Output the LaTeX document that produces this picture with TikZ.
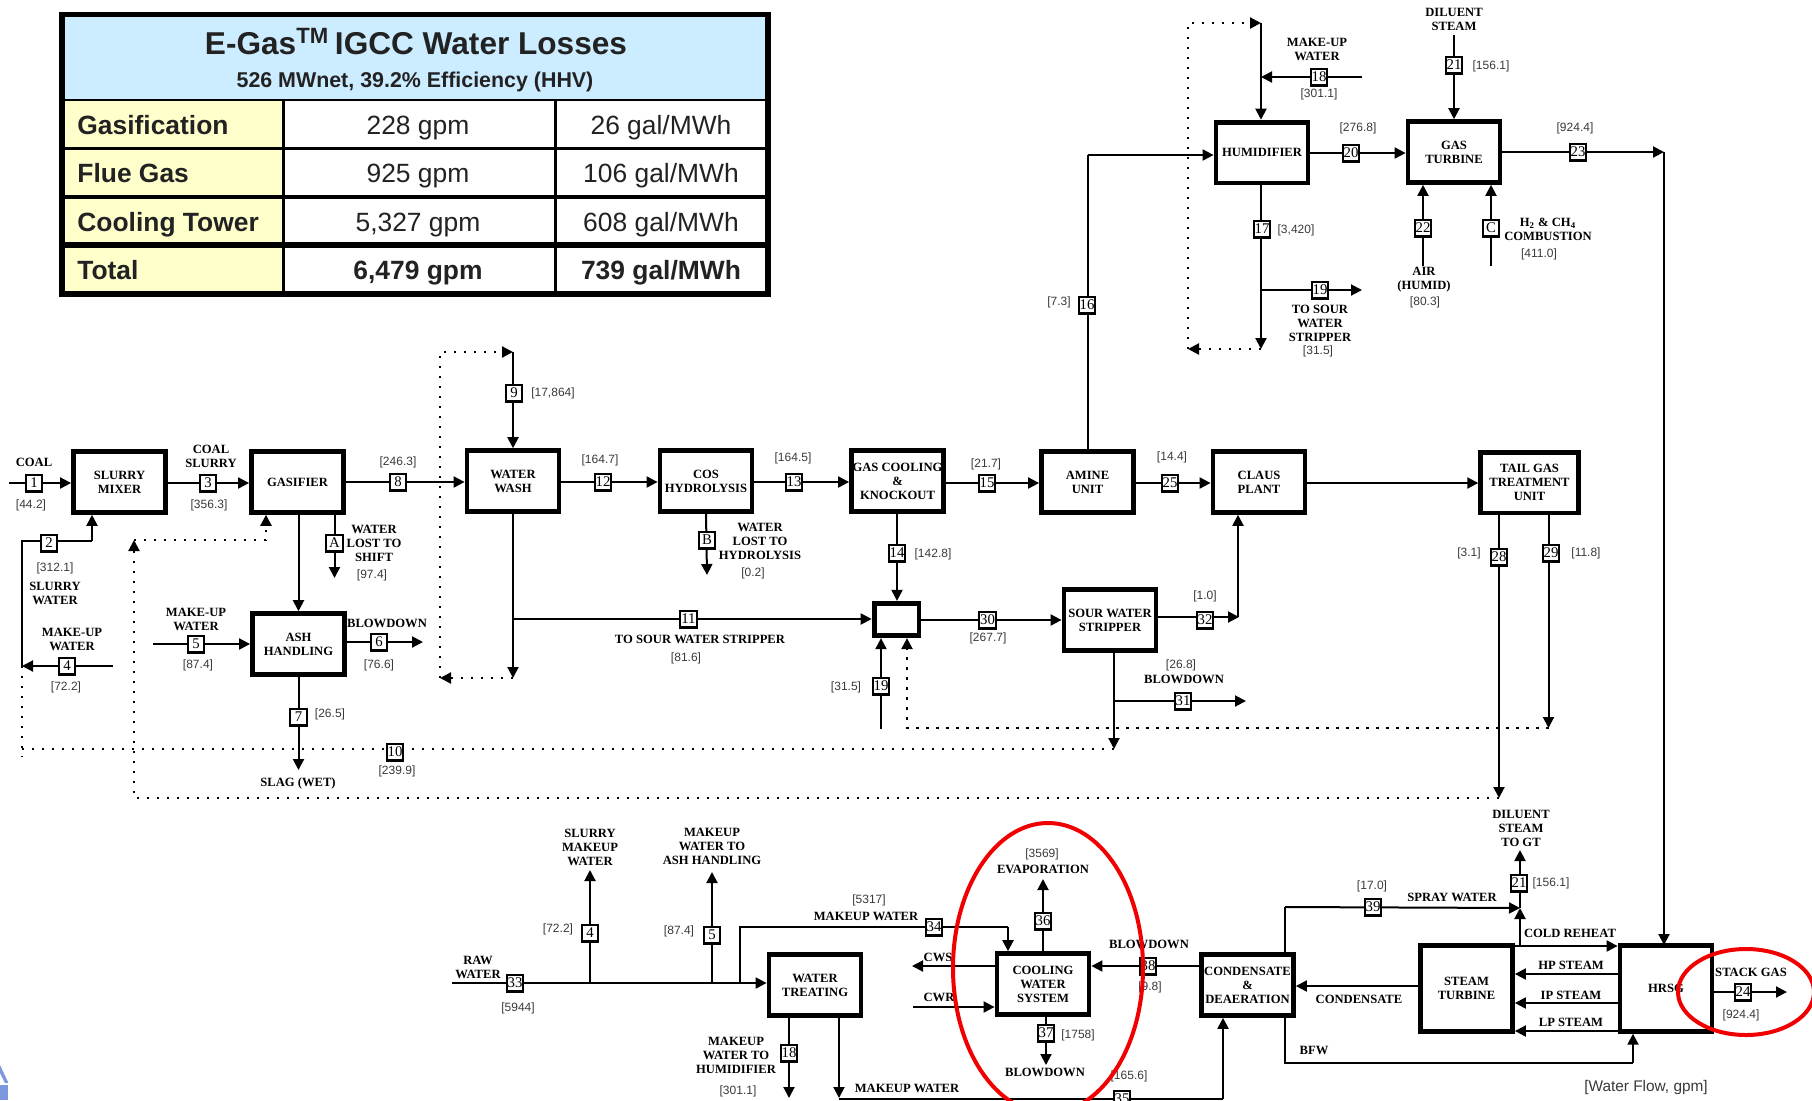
\documentclass[tikz,border=0pt]{standalone}
\usepackage{fontspec}
\setmainfont{Liberation Serif}
\setsansfont{Liberation Sans}
\usetikzlibrary{arrows.meta,backgrounds,calc,shapes.geometric}
\definecolor{tblue}{HTML}{CCECFF}
\definecolor{tyellow}{HTML}{FFFFCC}
\definecolor{ink}{HTML}{222222}
\definecolor{valink}{HTML}{3A3A3A}
\definecolor{ringred}{HTML}{F00000}
\definecolor{cornerblue}{HTML}{7E98DE}
\tikzset{
 pbox/.style={draw=black,fill=white,line width=2.4pt,minimum width=46pt,minimum height=30.4pt,inner sep=0pt,align=center,font=\bfseries\fontsize{6.3}{7}\selectfont},
 sbox/.style={draw=black,fill=white,line width=1.1pt,minimum width=8.2pt,minimum height=8.4pt,inner sep=0pt,font=\fontsize{7.4}{7.4}\selectfont},
 lbl/.style={inner sep=0pt,align=center,font=\bfseries\fontsize{6.3}{7}\selectfont},
 val/.style={inner sep=0pt,text=valink,font=\sffamily\fontsize{6}{6}\selectfont},
 flow/.style={draw=black,line width=1pt},
 flowa/.style={flow,-{Triangle[length=5.5pt,width=5.5pt]}},
 dotline/.style={draw=black,line width=1.1pt,dash pattern=on 1.1pt off 3.9pt},
 dotlinea/.style={dotline,-{Triangle[length=5.5pt,width=5.5pt]}},
 tcell/.style={inner sep=0pt,text=ink,text height=9.5pt,text depth=2.8pt,font=\sffamily\fontsize{13.2}{13.2}\selectfont},
 tcellb/.style={tcell,font=\sffamily\bfseries\fontsize{13.2}{13.2}\selectfont},
 ring/.style={draw=ringred,line width=2pt,ellipse,inner sep=0pt,fill=none}
}
\begin{document}
\begin{tikzpicture}[x=0.5pt,y=-0.5pt]
\useasboundingbox (0,0) rectangle (1812,1100);
\clip (0,0) rectangle (1812,1100);
% ---------- process boxes
\node[pbox] (mixer) at (119.5,482) {SLURRY\\MIXER};
\node[pbox] (gasifier) at (297.5,482) {GASIFIER};
\node[pbox] (wash) at (513,481) {WATER\\WASH};
\node[pbox] (ash) at (298.5,644) {ASH\\HANDLING};
\node[pbox] (cos) at (706,481) {COS\\HYDROLYSIS};
\node[pbox] (gcool) at (897.5,481) {GAS COOLING\\\&\\KNOCKOUT};
\node[pbox] (amine) at (1087.5,482) {AMINE\\UNIT};
\node[pbox] (claus) at (1259,482) {CLAUS\\PLANT};
\node[pbox,minimum width=48.8pt] (tail) at (1529.5,482.5) {TAIL GAS\\TREATMENT\\UNIT};
\node[pbox] (stripper) at (1110,620) {SOUR WATER\\STRIPPER};
\node[pbox,minimum width=22.4pt,minimum height=16.2pt] (junction) at (896.5,619.5) {};
\node[pbox] (humid) at (1262,152.5) {HUMIDIFIER};
\node[pbox] (gt) at (1454,152) {GAS\\TURBINE};
\node[pbox] (cooling) at (1043,984) {COOLING\\WATER\\SYSTEM};
\node[pbox] (treat) at (815,985) {WATER\\TREATING};
\node[pbox] (cond) at (1247.5,985) {CONDENSATE\\\&\\DEAERATION};
\node[pbox,minimum height=42.8pt] (st) at (1466.5,988.5) {STEAM\\TURBINE};
\node[pbox,minimum height=42.8pt] (hrsg) at (1666,988.5) {HRSG};
% ---------- stream boxes
\node[sbox] (s1) at (34,483) {1};
\node[sbox] (s2) at (49,543) {2};
\node[sbox] (s3) at (208,483) {3};
\node[sbox] (s4) at (67,666) {4};
\node[sbox] (s5) at (196,644) {5};
\node[sbox] (s6) at (379,642) {6};
\node[sbox] (s7) at (298.5,717) {7};
\node[sbox] (s8) at (398,482) {8};
\node[sbox] (s9) at (514,393) {9};
\node[sbox] (s10) at (395,752) {10};
\node[sbox] (sA) at (334.5,543) {A};
\node[sbox] (s11) at (688.5,619) {11};
\node[sbox] (s12) at (603,482) {12};
\node[sbox] (s13) at (794,482) {13};
\node[sbox] (sB) at (707,540) {B};
\node[sbox] (s14) at (897,553) {14};
\node[sbox] (s15) at (987,483) {15};
\node[sbox] (s25) at (1170,483) {25};
\node[sbox] (s30) at (987.5,620) {30};
\node[sbox] (s32) at (1205,620) {32};
\node[sbox] (s19a) at (881,686) {19};
\node[sbox] (s31) at (1183,701) {31};
\node[sbox] (s16) at (1087,305) {16};
\node[sbox] (s18a) at (1319,77) {18};
\node[sbox] (s17) at (1262,229) {17};
\node[sbox] (s19b) at (1320,290) {19};
\node[sbox] (s20) at (1351,153) {20};
\node[sbox] (s21a) at (1454,65) {21};
\node[sbox] (s23) at (1578,152) {23};
\node[sbox] (s22) at (1423,228) {22};
\node[sbox] (sC) at (1491,228) {C};
\node[sbox] (s28) at (1499,557) {28};
\node[sbox] (s29) at (1551,553) {29};
\node[sbox] (s21b) at (1519,883) {21};
\node[sbox] (s39) at (1373,907) {39};
\node[sbox] (s24) at (1743,992) {24};
\node[sbox] (s38) at (1148,966) {38};
\node[sbox] (s36) at (1043,921) {36};
\node[sbox] (s34) at (934,927) {34};
\node[sbox] (s37) at (1046,1033) {37};
\node[sbox] (s33) at (515,983) {33};
\node[sbox] (s4b) at (590,933) {4};
\node[sbox] (s5b) at (712,935) {5};
\node[sbox] (s18b) at (789,1053) {18};
\node[sbox] (s35) at (1122,1099) {35};
% ---------- text labels
\node[lbl] (l1) at (34,462) {COAL};
\node[lbl] (l2) at (211,456) {COAL\\SLURRY};
\node[lbl] (l3) at (55,593) {SLURRY\\WATER};
\node[lbl] (l4) at (72,639) {MAKE-UP\\WATER};
\node[lbl] (l5) at (196,619) {MAKE-UP\\WATER};
\node[lbl] (l6) at (387,623) {BLOWDOWN};
\node[lbl] (l7) at (298,783) {SLAG (WET)};
\node[lbl] (l8) at (374,543.5) {WATER\\LOST TO\\SHIFT};
\node[lbl] (l9) at (760,541) {WATER\\LOST TO\\HYDROLYSIS};
\node[lbl] (l10) at (700,639) {TO SOUR WATER STRIPPER};
\node[lbl] (l11) at (1184,679) {BLOWDOWN};
\node[lbl] (l12) at (1317,49.5) {MAKE-UP\\WATER};
\node[lbl] (l13) at (1320,323.5) {TO SOUR\\WATER\\STRIPPER};
\node[lbl] (l14) at (1454,19) {DILUENT\\STEAM};
\node[lbl] (l15) at (1424,280) {AIR\\(HUMID)};
\node[lbl] (l16) at (1548,229) {H\textsubscript{2} \& CH\textsubscript{4}\\COMBUSTION};
\node[lbl] (l17) at (1521,828.5) {DILUENT\\STEAM\\TO GT};
\node[lbl] (l18) at (1452,897) {SPRAY WATER};
\node[lbl] (l19) at (1570,933) {COLD REHEAT};
\node[lbl] (l20) at (1571,965) {HP STEAM};
\node[lbl] (l21) at (1571,995) {IP STEAM};
\node[lbl] (l22) at (1571,1022) {LP STEAM};
\node[lbl] (l23) at (1359,999) {CONDENSATE};
\node[lbl] (l24) at (1314,1050) {BFW};
\node[lbl] (l25) at (1751,972) {STACK GAS};
\node[lbl] (l26) at (1149,944) {BLOWDOWN};
\node[lbl] (l27) at (1043,869) {EVAPORATION};
\node[lbl] (l28) at (866,916) {MAKEUP WATER};
\node[lbl] (l29) at (938,957) {CWS};
\node[lbl] (l30) at (939,997) {CWR};
\node[lbl] (l31) at (1045,1072) {BLOWDOWN};
\node[lbl] (l32) at (478,967) {RAW\\WATER};
\node[lbl] (l33) at (590,847.5) {SLURRY\\MAKEUP\\WATER};
\node[lbl] (l34) at (712,846) {MAKEUP\\WATER TO\\ASH HANDLING};
\node[lbl] (l35) at (736,1055.5) {MAKEUP\\WATER TO\\HUMIDIFIER};
\node[lbl] (l36) at (907,1088) {MAKEUP WATER};
% ---------- flow values
\node[val] (v1) at (31,505) {[44.2]};
\node[val] (v2) at (209,505) {[356.3]};
\node[val] (v3) at (398,462) {[246.3]};
\node[val] (v4) at (553,393) {[17,864]};
\node[val] (v5) at (55,568) {[312.1]};
\node[val] (v6) at (66,687) {[72.2]};
\node[val] (v7) at (372,575) {[97.4]};
\node[val] (v8) at (198,665) {[87.4]};
\node[val] (v9) at (379,665) {[76.6]};
\node[val] (v10) at (330,714) {[26.5]};
\node[val] (v11) at (397,771) {[239.9]};
\node[val] (v12) at (600,460) {[164.7]};
\node[val] (v13) at (793,458) {[164.5]};
\node[val] (v14) at (986,464) {[21.7]};
\node[val] (v15) at (1172,457) {[14.4]};
\node[val] (v16) at (753,573) {[0.2]};
\node[val] (v17) at (933,554) {[142.8]};
\node[val] (v18) at (686,658) {[81.6]};
\node[val] (v19) at (988,638) {[267.7]};
\node[val] (v20) at (1205,596) {[1.0]};
\node[val] (v21) at (846,687) {[31.5]};
\node[val] (v22) at (1181,665) {[26.8]};
\node[val] (v23) at (1059,302) {[7.3]};
\node[val] (v24) at (1319,94) {[301.1]};
\node[val] (v25) at (1296,230) {[3,420]};
\node[val] (v26) at (1318,351) {[31.5]};
\node[val] (v27) at (1358,128) {[276.8]};
\node[val] (v28) at (1491,66) {[156.1]};
\node[val] (v29) at (1575,128) {[924.4]};
\node[val] (v30) at (1425,302) {[80.3]};
\node[val] (v31) at (1539,254) {[411.0]};
\node[val] (v32) at (1469,553) {[3.1]};
\node[val] (v33) at (1586,553) {[11.8]};
\node[val] (v34) at (1551,883) {[156.1]};
\node[val] (v35) at (1372,886) {[17.0]};
\node[val] (v36) at (1741,1015) {[924.4]};
\node[val] (v37) at (1150,987) {[9.8]};
\node[val] (v38) at (1042,854) {[3569]};
\node[val] (v39) at (869,900) {[5317]};
\node[val] (v40) at (1078,1035) {[1758]};
\node[val] (v41) at (518,1008) {[5944]};
\node[val] (v42) at (558,929) {[72.2]};
\node[val] (v43) at (679,931) {[87.4]};
\node[val] (v44) at (738,1091) {[301.1]};
\node[val] (v45) at (1129,1076) {[165.6]};
\node[val,font=\sffamily\fontsize{7.7}{7.7}\selectfont] (v46) at (1646,1087) {[Water Flow, gpm]};
% ---------- free ends and bends
\coordinate (a1) at (9,483);
\coordinate (a2) at (22,541);
\coordinate (a3) at (92,541);
\coordinate (a4) at (113,666);
\coordinate (a5) at (22,666);
\coordinate (a6) at (153,644);
\coordinate (a7) at (423,642);
\coordinate (a8) at (298.5,770);
\coordinate (a9) at (334.5,578);
\coordinate (a10) at (513,352);
\coordinate (a11) at (513,678);
\coordinate (a12) at (513,619);
\coordinate (a13) at (440,352);
\coordinate (a14) at (440,678);
\coordinate (a15) at (707,575);
\coordinate (a16) at (881,729);
\coordinate (a17) at (1239,617);
\coordinate (a18) at (1114,701);
\coordinate (a19) at (1246,701);
\coordinate (a20) at (1114,749);
\coordinate (a21) at (1087.5,155);
\coordinate (a22) at (1362,77);
\coordinate (a23) at (1261,23);
\coordinate (a24) at (1261,77);
\coordinate (a25) at (1188,23);
\coordinate (a26) at (1188,349);
\coordinate (a27) at (1261,349);
\coordinate (a28) at (1261,290);
\coordinate (a29) at (1362,290);
\coordinate (a30) at (1454,35);
\coordinate (a31) at (1423,266);
\coordinate (a32) at (1491,266);
\coordinate (a33) at (1664,152);
\coordinate (a34) at (1499,798);
\coordinate (a35) at (1548.5,728);
\coordinate (a36) at (22,749);
\coordinate (a37) at (22,757);
\coordinate (a38) at (134,798);
\coordinate (a39) at (134,540);
\coordinate (a40) at (266,540);
\coordinate (a41) at (907,728);
\coordinate (a42) at (452,983);
\coordinate (a43) at (590,870);
\coordinate (a44) at (712,872);
\coordinate (a45) at (740,927);
\coordinate (a46) at (1008,927);
\coordinate (a47) at (590,983);
\coordinate (a48) at (712,983);
\coordinate (a49) at (740,983);
\coordinate (a50) at (912,966);
\coordinate (a51) at (913,1007);
\coordinate (a52) at (1043,879);
\coordinate (a53) at (1046,1065);
\coordinate (a54) at (789,1098);
\coordinate (a55) at (839,1098);
\coordinate (a56) at (1223,1099);
\coordinate (a57) at (1285,907);
\coordinate (a58) at (1520,908);
\coordinate (a59) at (1520,850);
\coordinate (a60) at (1520,946);
\coordinate (a61) at (1285,1063);
\coordinate (a62) at (1633,1063);
\coordinate (a63) at (1787,992);
\coordinate (a64) at (1664,945);
% ---------- connectors, behind the boxes
\begin{pgfonlayer}{background}
\fill[white] (0,0) rectangle (1812,1100);
\fill[cornerblue] (0,1065) -- (8,1082) -- (8,1083) -- (5,1083) -- (0,1073) -- cycle;
\fill[cornerblue] (0,1085) -- (8,1085) -- (8,1100) -- (0,1100) -- cycle;
\draw[flowa] (a1) -- (a1 -| mixer.west);
\draw[flowa] (mixer.east |- s3) -- (gasifier.west |- s3);
\draw[flowa] (gasifier.east |- s8) -- (wash.west |- s8);
\draw[flow] (a5) -- (a2) -- (a3);
\draw[flowa] (a3) -- (a3 |- mixer.south);
\draw[flowa] (a4) -- (a5);
\draw[flowa] (gasifier.south -| ash) -- (ash.north);
\draw[flowa] (gasifier.south -| sA) -- (a9);
\draw[flowa] (a6) -- (a6 -| ash.west);
\draw[flowa] (ash.east |- a7) -- (a7);
\draw[flowa] (ash.south) -- (a8);
\draw[flowa] (a10) -- (a10 |- wash.north);
\draw[flowa] (wash.south) -- (a11);
\draw[flowa] (a12) -- (a12 -| junction.west);
\draw[flowa] (wash.east |- s12) -- (cos.west |- s12);
\draw[flowa] (cos.east |- s13) -- (gcool.west |- s13);
\draw[flowa] (cos.south) -- (a15);
\draw[flowa] (gcool.east |- s15) -- (amine.west |- s15);
\draw[flowa] (amine.east |- s25) -- (claus.west |- s25);
\draw[flowa] (claus.east |- s25) -- (tail.west |- s25);
\draw[flowa] (gcool.south -| s14) -- (junction.north -| s14);
\draw[flowa] (a16) -- (a16 |- junction.south);
\draw[flowa] (junction.east |- s30) -- (stripper.west |- s30);
\draw[flowa] (stripper.east |- a17) -- (a17);
\draw[flowa] (a17) ++(-1,0) coordinate (a17b) (a17b) -- (a17b |- claus.south);
\draw[flowa] (stripper.south -| a18) -- (a20);
\draw[flowa] (a18) -- (a19);
\draw[flow] (amine.north) -- (a21);
\draw[flowa] (a21) -- (a21 -| humid.west);
\draw[flowa] (a22) -- (a24);
\draw[flowa] (a23) -- (a23 |- humid.north);
\draw[flowa] (humid.south -| a27) -- (a27);
\draw[flowa] (a28) -- (a29);
\draw[flowa] (humid.east |- s20) -- (gt.west |- s20);
\draw[flowa] (a30) -- (a30 |- gt.north);
\draw[flowa] (a31) -- (a31 |- gt.south);
\draw[flowa] (a32) -- (a32 |- gt.south);
\draw[flowa] (gt.east |- a33) -- (a33);
\draw[flowa] (a33) -- (a64);
\draw[flowa] (tail.south -| a34) -- (a34);
\draw[flowa] (tail.south -| a35) -- (a35);
\draw[flowa] (a42) -- (a42 -| treat.west);
\draw[flowa] (a47) -- (a43);
\draw[flowa] (a48) -- (a44);
\draw[flow] (a49) -- (a45) -- (a46);
\draw[flowa] (a46) -- (a46 |- cooling.north);
\draw[flowa] (cooling.west |- a50) -- (a50);
\draw[flowa] (a51) -- (a51 -| cooling.west);
\draw[flowa] (cooling.north) -- (a52);
\draw[flowa] (cooling.south -| a53) -- (a53);
\draw[flowa] (treat.south -| a54) -- (a54);
\draw[flowa] (treat.south -| a55) -- (a55);
\draw[flow] (a55 |- a56) -- (a56);
\draw[flowa] (a56) -- (a56 |- cond.south);
\draw[flowa] (cond.west |- s38) -- (cooling.east |- s38);
\draw[flow] (cond.north -| a57) -- (a57);
\draw[flowa] (a57) -- (a58);
\draw[flowa] (a60) -- (a58);
\draw[flowa] (a58) -- (a59);
\draw[flowa] (a60 -| st.east) -- (a60 -| hrsg.west);
\coordinate (a65) at (1419,986);
\draw[flowa] (a65) -- (a65 -| cond.east);
\coordinate (a66) at (1619,974);
\coordinate (a67) at (1619,1003);
\coordinate (a68) at (1619,1031);
\draw[flowa] (a66) -- (a66 -| st.east);
\draw[flowa] (a67) -- (a67 -| st.east);
\draw[flowa] (a68) -- (a68 -| st.east);
\draw[flow] (cond.south -| a61) -- (a61) -- (a62);
\draw[flowa] (a62) -- (a62 |- hrsg.south);
\draw[flowa] (hrsg.east |- a63) -- (a63);
% dotted alternates
\draw[dotlinea] (a11) -- (a14);
\draw[dotlinea] (a14) -- (a13) -- (a10);
\draw[dotlinea] (a27) -- (a26);
\draw[dotlinea] (a26) -- (a25) -- (a23);
\draw[dotline] (a5) -- (a37);
\draw[dotline] (a36) -- (a20);
\draw[dotlinea] (a34) -- (a38) -- (a39);
\draw[dotlinea] (a39) -- (a40) -- (a40 |- gasifier.south);
\draw[dotlinea] (a35) -- (a41) -- (a41 |- junction.south);
\end{pgfonlayer}
% ---------- table
\fill[black] (59,12) rectangle (771,297);
\fill[tblue] (65,17) rectangle (765,99);
\fill[tyellow] (65,101) rectangle (282,146.5);
\fill[tyellow] (65,150) rectangle (282,195);
\fill[tyellow] (65,198.5) rectangle (282,242);
\fill[tyellow] (65,248) rectangle (282,291);
\fill[white] (284.5,101) rectangle (554,146.5);
\fill[white] (284.5,150) rectangle (554,195);
\fill[white] (284.5,198.5) rectangle (554,242);
\fill[white] (284.5,248) rectangle (554,291);
\fill[white] (556.5,101) rectangle (765,146.5);
\fill[white] (556.5,150) rectangle (765,195);
\fill[white] (556.5,198.5) rectangle (765,242);
\fill[white] (556.5,248) rectangle (765,291);
\node[tcellb,text height=11.5pt,text depth=3.4pt,font=\sffamily\bfseries\fontsize{15.8}{15.8}\selectfont] (t0) at (416,46) {E-Gas\textsuperscript{TM}\hspace{-1.5pt} IGCC Water Losses};
\node[tcellb,text height=7.7pt,text depth=2.3pt,font=\sffamily\bfseries\fontsize{10.7}{10.7}\selectfont] (t00) at (415,82) {526 MWnet, 39.2\% Efficiency (HHV)};
\node[tcellb,anchor=west] (t1) at (77,127.8) {Gasification};
\node[tcell] (t2) at (418,127.8) {228 gpm};
\node[tcell] (t3) at (661,127.8) {26 gal/MWh};
\node[tcellb,anchor=west] (t4) at (77,175.8) {Flue Gas};
\node[tcell] (t5) at (418,175.8) {925 gpm};
\node[tcell] (t6) at (661,175.8) {106 gal/MWh};
\node[tcellb,anchor=west] (t7) at (77,224.8) {Cooling Tower};
\node[tcell] (t8) at (418,224.8) {5,327 gpm};
\node[tcell] (t9) at (661,224.8) {608 gal/MWh};
\node[tcellb,anchor=west] (t10) at (77,272.8) {Total};
\node[tcellb] (t11) at (418,272.8) {6,479 gpm};
\node[tcellb] (t12) at (661,272.8) {739 gal/MWh};
% ---------- red rings
\node[ring,minimum width=95pt,minimum height=145pt] (r1) at (1048,968) {};
\node[ring,minimum width=68pt,minimum height=43pt] (r2) at (1746,992) {};
\end{tikzpicture}
\end{document}
